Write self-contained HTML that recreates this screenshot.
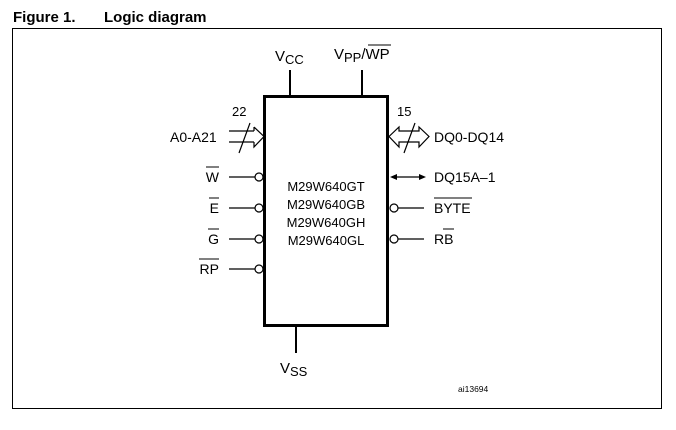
<!DOCTYPE html>
<html><head><style>
body{margin:0;background:#fff;}
svg{display:block;}
text{font-family:"Liberation Sans",Arial,sans-serif;fill:#000;}
</style></head><body>
<svg width="676" height="430" viewBox="0 0 676 430" xmlns="http://www.w3.org/2000/svg">
<text x="13" y="22" font-size="15" font-weight="bold">Figure 1.</text>
<text x="104" y="22" font-size="15" font-weight="bold">Logic diagram</text>
<rect x="12.5" y="28.5" width="649" height="380" fill="none" stroke="#000" stroke-width="1"/>
<rect x="264.5" y="96.5" width="123" height="229" fill="none" stroke="#000" stroke-width="3"/>
<g font-size="13" text-anchor="middle">
<text x="326" y="191">M29W640GT</text>
<text x="326" y="209">M29W640GB</text>
<text x="326" y="227">M29W640GH</text>
<text x="326" y="245">M29W640GL</text>
</g>
<line x1="290" y1="70" x2="290" y2="96" stroke="#000" stroke-width="2"/>
<line x1="362" y1="70" x2="362" y2="96" stroke="#000" stroke-width="2"/>
<line x1="296" y1="326" x2="296" y2="353" stroke="#000" stroke-width="2"/>
<text x="275" y="61" font-size="15">V<tspan font-size="13" dy="3">CC</tspan></text>
<text x="334" y="59" font-size="15">V<tspan font-size="13" dy="3">PP</tspan><tspan dy="-3">/WP</tspan></text>
<line x1="368" y1="45" x2="391" y2="45" stroke="#000" stroke-width="1"/>
<text x="280" y="373" font-size="15">V<tspan font-size="13" dy="3">SS</tspan></text>
<text x="458" y="392" font-size="8.5">ai13694</text>
<g stroke="#000" stroke-width="1.2" fill="#fff">
<line x1="229" y1="131" x2="254" y2="131"/>
<line x1="229" y1="142" x2="254" y2="142"/>
<path d="M254 127 L264 136.5 L254 147 L254 142 M254 131 L254 127" fill="none"/>
<line x1="239" y1="153" x2="250" y2="123"/>
<path d="M389 136.5 L399 127 L399 131 L419 131 L419 127 L429 136.5 L419 147 L419 142 L399 142 L399 147 Z" fill="#fff"/>
<line x1="404" y1="153" x2="415" y2="123"/>
</g>
<text x="232" y="116" font-size="13">22</text>
<text x="397" y="116" font-size="13">15</text>
<text x="170" y="142" font-size="14">A0-A21</text>
<text x="434" y="142" font-size="14">DQ0-DQ14</text>
<g stroke="#000" stroke-width="1.2" fill="#fff">
<line x1="229" y1="177" x2="255" y2="177"/><circle cx="259" cy="177" r="4"/>
<line x1="229" y1="208" x2="255" y2="208"/><circle cx="259" cy="208" r="4"/>
<line x1="229" y1="239" x2="255" y2="239"/><circle cx="259" cy="239" r="4"/>
<line x1="229" y1="269" x2="255" y2="269"/><circle cx="259" cy="269" r="4"/>
<line x1="398" y1="208" x2="424" y2="208"/><circle cx="394" cy="208" r="4"/>
<line x1="398" y1="239" x2="424" y2="239"/><circle cx="394" cy="239" r="4"/>
<line x1="392" y1="177" x2="422" y2="177"/>
</g>
<path d="M390 177 L397 174 L397 180 Z M426 177 L419 174 L419 180 Z" fill="#000"/>
<g font-size="14" text-anchor="end">
<text x="219" y="182">W</text>
<text x="219" y="213">E</text>
<text x="219" y="244">G</text>
<text x="219" y="274">RP</text>
</g>
<g stroke="#000" stroke-width="1">
<line x1="206" y1="167" x2="219" y2="167"/>
<line x1="209" y1="198" x2="219" y2="198"/>
<line x1="208" y1="229" x2="219" y2="229"/>
<line x1="199" y1="259" x2="219" y2="259"/>
<line x1="434" y1="198" x2="472" y2="198"/>
<line x1="443" y1="229" x2="454" y2="229"/>
</g>
<text x="434" y="182" font-size="14">DQ15A–1</text>
<text x="434" y="213" font-size="14">BYTE</text>
<text x="434" y="244" font-size="14">RB</text>
</svg>
</body></html>
